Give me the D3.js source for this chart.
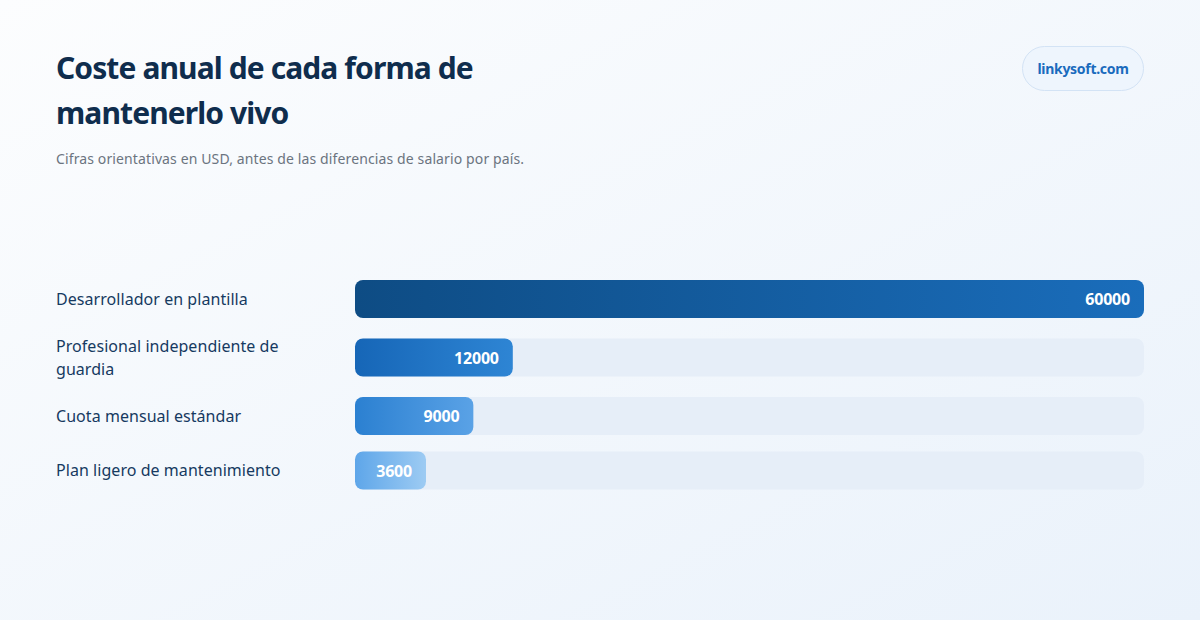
<!DOCTYPE html>
<html><head><meta charset="utf-8">
<script src="https://cdn.jsdelivr.net/npm/d3@7"></script>
<style>html,body{margin:0;padding:0;width:1200px;height:620px;overflow:hidden}</style>
</head><body>
<svg id="c" width="1200" height="620"></svg>
<script>
const categories = [["Desarrollador en plantilla"], ["Profesional independiente de", "guardia"], ["Cuota mensual estándar"], ["Plan ligero de mantenimiento"]];
const values = [60000, 12000, 9000, 3600];
const titleLines = ["Coste anual de cada forma de", "mantenerlo vivo"];
const subtitle = "Cifras orientativas en USD, antes de las diferencias de salario por país.";
const badge = "linkysoft.com";
const gradStops = [["#0e4c84","#1a6dbb"],["#1666b7","#2e85d4"],["#2b80d1","#5aa2e6"],["#5ea6e9","#9dcbf3"]];

const svg = d3.select("#c");
const font = "'Noto Sans', sans-serif";
const defs = svg.append("defs");
const bg = defs.append("linearGradient").attr("id","bg").attr("x1","0").attr("y1","0").attr("x2","1").attr("y2","1");
bg.append("stop").attr("offset","0").attr("stop-color","#fcfdfe");
bg.append("stop").attr("offset","1").attr("stop-color","#eaf2fb");
svg.append("rect").attr("width",1200).attr("height",620).attr("fill","url(#bg)");

gradStops.forEach((s,i)=>{
  const g = defs.append("linearGradient").attr("id","g"+i);
  g.append("stop").attr("offset","0").attr("stop-color",s[0]);
  g.append("stop").attr("offset","1").attr("stop-color",s[1]);
});

// title
svg.append("g").selectAll("text").data(titleLines).join("text")
  .attr("x",56).attr("y",(d,i)=>79+i*45)
  .attr("font-family",font).attr("font-weight",700).attr("font-size",30)
  .attr("letter-spacing","-0.9").attr("fill","#0f2d4d").text(d=>d);
svg.append("text").attr("x",56).attr("y",164).attr("font-family",font)
  .attr("font-size",14).attr("letter-spacing","0.12").attr("fill","#6b7480").text(subtitle);

// badge
svg.append("rect").attr("x",1022.5).attr("y",46.5).attr("width",121).attr("height",44).attr("rx",22)
  .attr("fill","#eef5fd").attr("stroke","#d3e3f5");
svg.append("text").attr("x",1083).attr("y",74).attr("text-anchor","middle").attr("font-family",font)
  .attr("font-weight",700).attr("font-size",14).attr("letter-spacing","-0.3").attr("fill","#1a6bbd").text(badge);

// rows
const barH = 38, gap = 16.5, lineH = 23, top0 = 280;
const rowH = categories.map(c => Math.max(barH, c.length*lineH));
const tops = []; let acc = top0;
rowH.forEach(h=>{tops.push(acc); acc += h + gap;});
const centers = tops.map((t,i)=>t+rowH[i]/2);

const x = d3.scaleLinear().domain([0, d3.max(values)]).range([0, 789]);
const x0 = 355, minW = 71;

const rows = svg.append("g").selectAll("g").data(values).join("g")
  .attr("transform",(d,i)=>`translate(0,${centers[i]})`);
rows.append("rect").attr("x",x0).attr("y",-barH/2).attr("width",x.range()[1]).attr("height",barH)
  .attr("rx",8).attr("fill","#e6eef8");
rows.append("rect").attr("x",x0).attr("y",-barH/2).attr("width",d=>Math.max(minW,x(d))).attr("height",barH)
  .attr("rx",8).attr("fill",(d,i)=>`url(#g${i})`);
rows.append("text").attr("x",d=>x0+Math.max(minW,x(d))-14).attr("y",6)
  .attr("text-anchor","end").attr("font-family",font).attr("font-weight",700).attr("font-size",16)
  .attr("letter-spacing","-0.2").attr("fill","#ffffff").text(d=>d);
rows.each(function(d,i){
  const lines = categories[i];
  d3.select(this).selectAll("text.lab").data(lines).join("text").attr("class","lab")
    .attr("x",56).attr("y",(l,j)=>(j-(lines.length-1)/2)*lineH+5.5)
    .attr("font-family",font).attr("font-size",16).attr("letter-spacing","0.05").attr("fill","#163a61").text(l=>l);
});
</script>
</body></html>
